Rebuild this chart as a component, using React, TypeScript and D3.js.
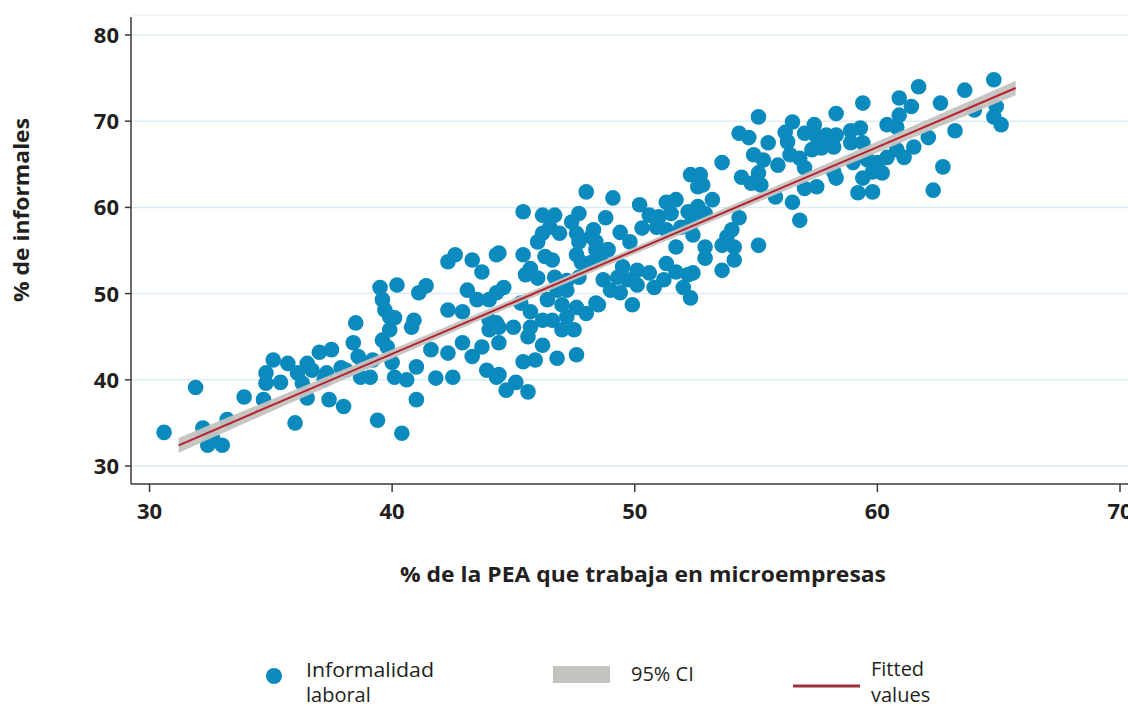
import React from "react";
import * as d3 from "d3";

// Scatter: % PEA en microempresas (x) vs % de informales (y)
const pointsX = [
  30.6, 31.9, 32.2, 32.6, 32.4, 33.0, 33.2, 33.9, 34.7, 34.8, 34.8, 35.1, 35.7, 35.4, 36.1, 36.5, 36.7, 36.3, 36.5, 36.0,
  37.0, 37.5, 37.2, 37.4, 37.9, 37.3, 38.0,
  42.3, 42.6, 43.3, 43.7, 44.3, 39.5, 40.2, 41.1, 41.4, 39.6, 39.7, 39.9, 40.1, 38.5, 39.9, 39.6, 39.8, 40.9, 40.8,
  42.3, 42.9, 43.1, 43.5, 44.0, 44.3, 38.4, 38.6, 38.8, 39.2, 40.0, 40.1, 39.1, 38.7, 38.1, 41.0, 40.6, 41.8, 42.5,
  41.6, 42.3, 42.9, 43.3, 43.9, 44.3, 43.7, 44.0, 44.3, 41.0, 39.4, 40.4,
  48.0, 45.4, 46.2, 46.7, 47.7, 47.4, 46.5, 46.9, 46.2, 46.0, 47.6, 47.7, 48.2, 44.4, 45.4, 46.3, 46.6, 47.6, 47.8,
  45.7, 45.5, 46.0, 46.7, 47.2, 47.7, 44.6, 45.3, 45.7, 46.4, 46.8, 47.2, 47.0, 47.6, 48.0, 48.4, 44.0, 44.4, 45.0,
  45.7, 46.2, 46.6, 47.2, 47.0, 47.5, 44.4, 45.6, 46.2, 45.4, 45.9, 46.8, 47.6, 44.4, 45.1, 44.7, 45.6,
  52.3, 52.6, 49.1, 50.2, 51.3, 51.7, 50.6, 48.8, 51.0, 51.5, 52.2, 52.4, 48.3, 49.4, 50.3, 50.9, 51.3, 51.9, 52.4,
  48.4, 49.8, 51.7, 48.4, 48.9, 48.2, 48.6, 49.5, 50.1, 50.6, 51.3, 51.7, 52.2, 49.3, 48.7, 49.7, 50.1, 50.8, 51.2,
  49.0, 49.4, 52.0, 52.3, 48.5, 49.9,
  55.1, 58.3, 56.5, 57.4, 54.3, 54.7, 56.2, 56.3, 57.0, 57.5, 55.5, 57.9, 58.3, 53.6, 54.9, 55.3, 55.9, 56.4, 56.8,
  57.3, 57.7, 57.0, 58.2, 58.3, 52.7, 52.8, 54.4, 55.1, 55.2, 54.8, 57.5, 57.0, 55.8, 56.5, 53.2, 52.6, 52.9, 56.8,
  52.3, 54.3, 54.0, 53.8, 53.6, 54.1, 52.9, 52.9, 54.1, 53.6, 55.1, 52.4,
  61.7, 64.8, 63.6, 60.9, 61.4, 62.6, 59.4, 64.9, 64.0, 64.8, 65.1, 60.9, 60.4, 60.8, 63.2, 62.1, 61.5, 59.3, 58.9,
  58.2, 58.9, 59.4, 60.8, 61.1, 60.4, 60.0, 59.6, 59.0, 60.2, 59.8, 59.4, 62.7, 59.2, 59.8, 62.3,
];
const pointsY = [
  33.9, 39.1, 34.4, 33.2, 32.4, 32.4, 35.4, 38.0, 37.7, 40.8, 39.6, 42.3, 41.9, 39.7, 40.8, 41.9, 41.1, 39.6, 37.9, 35.0,
  43.2, 43.5, 40.0, 37.7, 41.4, 40.8, 36.9,
  53.7, 54.5, 53.9, 52.5, 54.5, 50.7, 51.0, 50.1, 50.9, 49.3, 48.1, 47.3, 47.2, 46.6, 45.8, 44.6, 43.8, 46.9, 46.1,
  48.1, 47.9, 50.4, 49.3, 49.3, 50.1, 44.3, 42.7, 42.0, 42.3, 42.0, 40.3, 40.3, 40.3, 41.1, 41.5, 40.0, 40.2, 40.3,
  43.5, 43.1, 44.3, 42.7, 41.1, 40.3, 43.8, 45.8, 46.6, 37.7, 35.3, 33.8,
  61.8, 59.5, 59.1, 59.1, 59.3, 58.3, 57.7, 57.0, 57.0, 56.0, 57.0, 56.0, 56.6, 54.7, 54.5, 54.3, 53.9, 54.5, 53.6,
  52.9, 52.2, 51.8, 51.9, 51.5, 51.9, 50.7, 48.9, 47.9, 49.3, 50.4, 50.4, 48.7, 48.4, 47.7, 48.9, 46.9, 46.1, 46.1,
  46.1, 46.9, 46.9, 47.3, 45.8, 45.8, 44.3, 45.0, 44.0, 42.1, 42.3, 42.5, 42.9, 40.6, 39.7, 38.8, 38.6,
  63.8, 62.4, 61.1, 60.3, 60.6, 60.9, 59.1, 58.8, 58.9, 59.3, 59.5, 58.5, 57.4, 57.1, 57.6, 57.7, 57.4, 57.7, 56.8,
  56.0, 56.0, 55.4, 55.1, 55.1, 53.6, 54.2, 53.1, 52.7, 52.4, 53.5, 52.5, 52.2, 51.9, 51.6, 51.6, 51.0, 50.7, 51.6,
  50.4, 50.1, 50.7, 49.5, 48.7, 48.7,
  70.5, 70.9, 69.9, 69.6, 68.6, 68.1, 68.7, 67.6, 68.6, 68.2, 67.5, 68.4, 68.4, 65.2, 66.1, 65.5, 64.9, 66.1, 65.7,
  66.7, 66.9, 64.6, 64.1, 63.4, 63.8, 62.6, 63.5, 64.0, 62.6, 62.8, 62.4, 62.2, 61.2, 60.6, 60.9, 60.1, 59.3, 58.5,
  58.0, 58.8, 57.4, 56.6, 55.6, 55.4, 55.4, 54.1, 53.9, 52.7, 55.6, 52.4,
  74.0, 74.8, 73.6, 72.7, 71.7, 72.1, 72.1, 71.7, 71.3, 70.5, 69.6, 70.7, 69.6, 69.3, 68.9, 68.1, 67.0, 69.2, 68.9,
  67.0, 67.5, 67.5, 66.7, 65.8, 65.8, 65.2, 65.5, 65.2, 64.0, 64.1, 63.4, 64.7, 61.7, 61.8, 62.0,
];

// Fitted values and 95% CI half-width at those x
const fitX = [31.2, 36, 40, 44, 48, 52, 56, 60, 65.7];
const fitY = [32.4, 38.2, 43.0, 47.8, 52.6, 57.4, 62.2, 67.0, 73.85];
const ciHalf = [0.85, 0.66, 0.52, 0.43, 0.4, 0.42, 0.5, 0.64, 0.85];

const xTicks = [30, 40, 50, 60, 70];
const yTicks = [30, 40, 50, 60, 70, 80];

const legendItems = [
  ["Informalidad", "laboral"],
  ["95% CI"],
  ["Fitted", "values"],
];

const W = 1128;
const H = 707;
const FONT = "'Open Sans', 'Noto Sans', sans-serif";

export default function App() {
  const x = d3.scaleLinear().domain([30, 70]).range([149.5, 1120]);
  const y = d3.scaleLinear().domain([30, 80]).range([466, 35]);
  const axisLeft = 131;
  const axisBottom = 484;

  const idx = fitX.map((_, i) => i);
  const area = d3
    .area<number>()
    .x((i) => x(fitX[i]))
    .y0((i) => y(fitY[i] - ciHalf[i]))
    .y1((i) => y(fitY[i] + ciHalf[i]))
    .curve(d3.curveMonotoneX);
  const line = d3
    .line<number>()
    .x((i) => x(fitX[i]))
    .y((i) => y(fitY[i]));

  const dotColor = "#0b8bbd";
  const ciColor = "#c4c3bf";
  const fitColor = "#b8202f";
  const textColor = "#231f20";

  return (
    <svg
      width={W}
      height={H}
      style={{ position: "absolute", left: 0, top: 0, background: "#fff" }}
      fontFamily={FONT}
    >
      <rect x={0} y={0} width={W} height={H} fill="#fff" />
      {/* faint plot-region top line */}
      <line x1={axisLeft} x2={W} y1={15} y2={15} stroke="#eef4f7" strokeWidth={1.5} />
      {/* gridlines */}
      {yTicks.map((t) => (
        <line
          key={"g" + t}
          x1={axisLeft}
          x2={W}
          y1={y(t)}
          y2={y(t)}
          stroke="#dceaf1"
          strokeWidth={1.5}
        />
      ))}
      {/* points */}
      {pointsX.map((px, i) => (
        <circle key={"p" + i} cx={x(px)} cy={y(pointsY[i])} r={7.8} fill={dotColor} />
      ))}
      {/* CI band and fitted line */}
      <path d={area(idx) || ""} fill={ciColor} opacity={0.95} />
      <path d={line(idx) || ""} fill="none" stroke={fitColor} strokeWidth={2} />

      {/* axes */}
      <line x1={axisLeft} x2={axisLeft} y1={17} y2={axisBottom} stroke="#3a3a3a" strokeWidth={1.5} />
      <line x1={axisLeft} x2={W} y1={axisBottom} y2={axisBottom} stroke="#3a3a3a" strokeWidth={1.5} />
      {yTicks.map((t) => (
        <g key={"yt" + t}>
          <line x1={axisLeft - 6} x2={axisLeft} y1={y(t)} y2={y(t)} stroke="#3a3a3a" strokeWidth={1.5} />
          <text
            x={119}
            y={y(t)}
            dy="0.36em"
            textAnchor="end"
            fontSize={22}
            fontWeight={700}
            fill={textColor}
          >
            {t}
          </text>
        </g>
      ))}
      {xTicks.map((t) => (
        <g key={"xt" + t}>
          <line x1={x(t)} x2={x(t)} y1={axisBottom} y2={axisBottom + 8} stroke="#3a3a3a" strokeWidth={1.5} />
          <text
            x={x(t)}
            y={519}
            textAnchor="middle"
            fontSize={22}
            fontWeight={700}
            fill={textColor}
          >
            {t}
          </text>
        </g>
      ))}
      {/* axis titles */}
      <text
        transform={`translate(29,210) rotate(-90)`}
        textAnchor="middle"
        fontSize={21}
        fontWeight={700}
        fill={textColor}
        textLength={184}
        lengthAdjust="spacingAndGlyphs"
      >
        % de informales
      </text>
      <text
        x={643}
        y={582}
        textAnchor="middle"
        fontSize={21}
        fontWeight={700}
        fill={textColor}
        textLength={486}
        lengthAdjust="spacingAndGlyphs"
      >
        % de la PEA que trabaja en microempresas
      </text>

      {/* legend */}
      <circle cx={274} cy={676} r={8} fill={dotColor} />
      <text x={306} y={677} fontSize={20} fill={textColor} textLength={128} lengthAdjust="spacingAndGlyphs">
        {legendItems[0][0]}
      </text>
      <text x={306} y={702} fontSize={20} fill={textColor}>
        {legendItems[0][1]}
      </text>
      <rect x={553} y={666} width={57} height={17} fill={ciColor} />
      <text x={631} y={681} fontSize={20} fill={textColor}>
        {legendItems[1][0]}
      </text>
      <line x1={793} x2={860} y1={686} y2={686} stroke="#9e2f3c" strokeWidth={3} />
      <text x={871} y={676} fontSize={20} fill={textColor}>
        {legendItems[2][0]}
      </text>
      <text x={871} y={702} fontSize={20} fill={textColor}>
        {legendItems[2][1]}
      </text>
    </svg>
  );
}
